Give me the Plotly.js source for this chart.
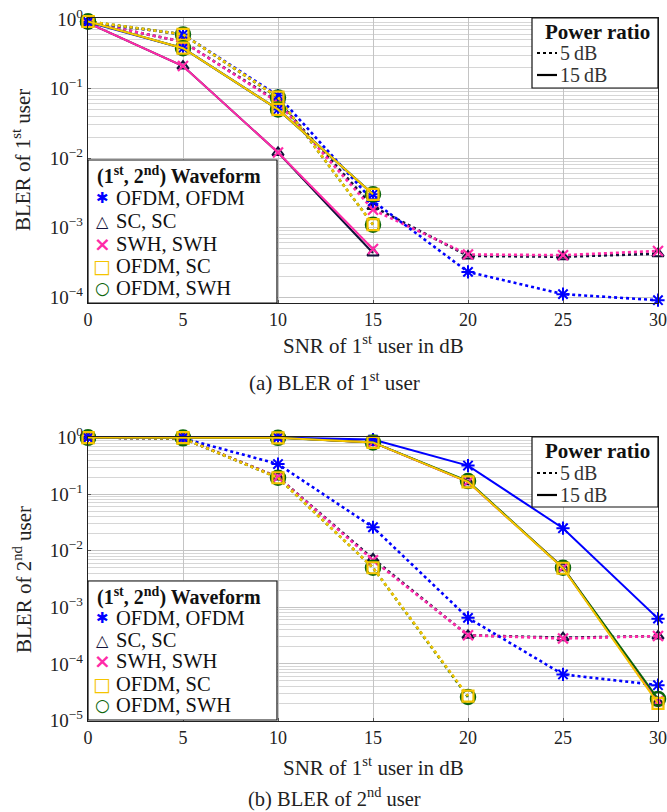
<!DOCTYPE html>
<html><head><meta charset="utf-8">
<script src="https://cdn.plot.ly/plotly-3.0.1.min.js"></script>
<style>html,body{margin:0;padding:0;background:#fff}#chart{width:667px;height:812px}</style>
</head><body><div id="chart"></div>
<script>
// ---------- data ----------
const snr = [0, 5, 10, 15, 20, 25, 30];
const snrShort = [0, 5, 10, 15];
const snrMid = [0, 5, 10, 15, 20];

// BLER of 1st user (top)
const u1_ofdm_5    = [0.9, 0.6, 0.079, 0.0024, 2.3e-4, 1.1e-4, 9e-5];
const u1_sc_5      = [0.9, 0.47, 0.065, 0.002, 3.9e-4, 3.8e-4, 4.2e-4];
const u1_swh_5     = [0.9, 0.47, 0.063, 0.0018, 4.1e-4, 4.0e-4, 4.6e-4];
const u1_ofdmsc_5  = [0.92, 0.6, 0.075, 0.0011];
const u1_ofdmswh_5 = [0.92, 0.6, 0.074, 0.0011];
const u1_ofdm_15    = [0.9, 0.38, 0.05, 0.003];
const u1_sc_15      = [0.88, 0.21, 0.012, 4.3e-4];
const u1_swh_15     = [0.88, 0.21, 0.012, 4.9e-4];
const u1_ofdmsc_15  = [0.92, 0.38, 0.05, 0.003];
const u1_ofdmswh_15 = [0.92, 0.38, 0.05, 0.003];

// BLER of 2nd user (bottom)
const u2_ofdm_5    = [1, 0.97, 0.34, 0.026, 6.5e-4, 6.5e-5, 4.2e-5];
const u2_sc_5      = [1, 0.97, 0.2, 0.0072, 3.2e-4, 2.9e-4, 3.1e-4];
const u2_swh_5     = [1, 0.97, 0.2, 0.0068, 3.2e-4, 2.8e-4, 3.1e-4];
const u2_ofdmsc_5  = [1, 0.97, 0.195, 0.005, 2.7e-5];
const u2_ofdmswh_5 = [1, 0.97, 0.195, 0.005, 2.6e-5];
const u2_ofdm_15    = [1, 1, 1, 0.92, 0.32, 0.025, 6.3e-4];
const u2_sc_15      = [1, 1, 1, 0.82, 0.165, 0.005, 2.1e-5];
const u2_swh_15     = [1, 1, 1, 0.82, 0.165, 0.005, 2.2e-5];
const u2_ofdmsc_15  = [1, 1, 0.99, 0.82, 0.165, 0.0049, 2.0e-5];
const u2_ofdmswh_15 = [1, 1, 0.99, 0.82, 0.17, 0.005, 2.4e-5];

const waveNames = ['OFDM, OFDM', 'SC, SC', 'SWH, SWH', 'OFDM, SC', 'OFDM, SWH'];
const waveGlyphs = ['\u2731', '\u25B3', '\u00D7', '\u25A1', '\u25CB'];
const powerNames = ['5\u2009dB', '15\u2009dB'];
const xTicks = [0, 5, 10, 15, 20, 25, 30];

// ---------- styles ----------
const FONT = 'Liberation Serif, Times New Roman, serif';
const sty = {
  ofdm:    {color: '#0000ff', symbol: 'asterisk-open', size: 11, lw: 2},
  sc:      {color: '#12123a', symbol: 'triangle-up-open', size: 10, lw: 2},
  swh:     {color: '#ff2aa8', symbol: 'x-thin-open', size: 10, lw: 2.2},
  ofdmsc:  {color: '#f5c400', symbol: 'square-open', size: 11, lw: 2.2},
  ofdmswh: {color: '#0b650b', symbol: 'circle-open', size: 14, lw: 2.5}
};
const order = ['ofdm', 'sc', 'swh', 'ofdmsc', 'ofdmswh'];
const glyphSize = {ofdm: 15, sc: 16, swh: 20, ofdmsc: 19, ofdmswh: 17};

function tr(x, y, key, dash, xa, ya, name) {
  const s = sty[key];
  return {
    x: x, y: y, xaxis: xa, yaxis: ya, type: 'scatter', mode: 'lines+markers', name: name,
    showlegend: false, cliponaxis: false, hoverinfo: 'skip',
    line: {color: s.color, width: dash === 'dot' ? 2.6 : 2, dash: dash},
    marker: {symbol: s.symbol, size: s.size, color: s.color, line: {color: s.color, width: s.lw}}
  };
}

const traces = [];
const top5 = {ofdm: [snr, u1_ofdm_5], sc: [snr, u1_sc_5], swh: [snr, u1_swh_5], ofdmsc: [snrShort, u1_ofdmsc_5], ofdmswh: [snrShort, u1_ofdmswh_5]};
const top15 = {ofdm: [snrShort, u1_ofdm_15], sc: [snrShort, u1_sc_15], swh: [snrShort, u1_swh_15], ofdmsc: [snrShort, u1_ofdmsc_15], ofdmswh: [snrShort, u1_ofdmswh_15]};
const bot5 = {ofdm: [snr, u2_ofdm_5], sc: [snr, u2_sc_5], swh: [snr, u2_swh_5], ofdmsc: [snrMid, u2_ofdmsc_5], ofdmswh: [snrMid, u2_ofdmswh_5]};
const bot15 = {ofdm: [snr, u2_ofdm_15], sc: [snr, u2_sc_15], swh: [snr, u2_swh_15], ofdmsc: [snr, u2_ofdmsc_15], ofdmswh: [snr, u2_ofdmswh_15]};

const drawOrder = ['sc', 'swh', 'ofdm', 'ofdmswh', 'ofdmsc'];
const nm = k => waveNames[order.indexOf(k)];
drawOrder.forEach(k => traces.push(tr(top5[k][0], top5[k][1], k, 'dot', 'x', 'y', nm(k) + ' 5 dB')));
drawOrder.forEach(k => traces.push(tr(top15[k][0], top15[k][1], k, 'solid', 'x', 'y', nm(k) + ' 15 dB')));
drawOrder.forEach(k => traces.push(tr(bot5[k][0], bot5[k][1], k, 'dot', 'x2', 'y2', nm(k) + ' 5 dB')));
drawOrder.forEach(k => traces.push(tr(bot15[k][0], bot15[k][1], k, 'solid', 'x2', 'y2', nm(k) + ' 15 dB')));

// ---------- axes ----------
const W = 667, H = 812;
const px = v => v / W, py = v => 1 - v / H;
const xDom = [px(88), px(658)];

function logTicks(lo, hi) {
  const vals = [], txt = [], minor = [];
  for (let e = hi; e >= lo; e--) {
    vals.push(Math.pow(10, e));
    txt.push('10<sup>' + (e < 0 ? '\u2212' + (-e) : e) + '</sup>');
    if (e > lo) for (let m = 2; m <= 9; m++) minor.push(m * Math.pow(10, e - 1));
  }
  return {vals, txt, minor};
}
const t1 = logTicks(-4, 0), t2 = logTicks(-5, 0);

function xAxis(dom, anchor) {
  return {domain: dom, anchor: anchor, range: [0, 30], tickmode: 'array', tickvals: xTicks,
    showgrid: true, gridcolor: '#c4c4c4', gridwidth: 1, zeroline: false,
    showline: true, linecolor: '#222', linewidth: 1.2, mirror: true,
    ticks: 'inside', ticklen: 3, tickcolor: '#555', ticklabelstandoff: 0,
    tickfont: {family: FONT, size: 18, color: '#222'}, automargin: false};
}
function yAxis(dom, anchor, range, t) {
  return {domain: dom, anchor: anchor, type: 'log', range: range, tickmode: 'array',
    tickvals: t.vals, ticktext: t.txt,
    showgrid: true, gridcolor: '#c4c4c4', gridwidth: 1, zeroline: false,
    minor: {tickmode: 'array', tickvals: t.minor, showgrid: true, gridcolor: '#d6d6d6', gridwidth: 1, ticks: ''},
    showline: true, linecolor: '#222', linewidth: 1.2, mirror: true,
    ticks: 'inside', ticklen: 3, tickcolor: '#555',
    tickfont: {family: FONT, size: 19, color: '#222'}, automargin: false};
}

// ---------- text & legends ----------
const annotations = [];
const shapes = [];
function ann(text, xp, yp, size, opts) {
  annotations.push(Object.assign({text: text, x: px(xp), y: py(yp), xref: 'paper', yref: 'paper', showarrow: false,
    xanchor: 'center', yanchor: 'middle', textangle: 0, borderpad: 0,
    font: {family: FONT, size: size, color: '#222'}}, opts || {}));
}
function box(x0, y0, x1, y1) {
  shapes.push({type: 'rect', xref: 'paper', yref: 'paper', x0: px(x0), x1: px(x1), y0: py(y1), y1: py(y0),
    line: {color: '#111', width: 1.2}, fillcolor: '#fff', layer: 'above'});
}
function waveLegend(top, bottom, titleY, rowYs) {
  box(88, top, 277, bottom);
  ann('<b>(1<sup>st</sup>, 2<sup>nd</sup>) Waveform</b>', 96, titleY, 20, {xanchor: 'left', font: {family: FONT, size: 20, color: '#111'}});
  order.forEach((k, i) => {
    const s = sty[k];
    ann('<b>' + waveGlyphs[i] + '</b>', 102, rowYs[i], glyphSize[k],
      {font: {family: 'DejaVu Sans', size: glyphSize[k], color: s.color}});
    ann(waveNames[i], 115, rowYs[i], 20, {xanchor: 'left', font: {family: FONT, size: 20.5, color: '#111'}});
  });
}
function powerLegend(top, bottom, titleY, rowYs) {
  box(532, top, 658, bottom);
  ann('<b>Power ratio</b>', 651, titleY, 21, {xanchor: 'right', font: {family: FONT, size: 21, color: '#111'}});
  ['dot', 'solid'].forEach((d, i) => {
    shapes.push({type: 'line', xref: 'paper', yref: 'paper', x0: px(537), x1: px(557), y0: py(rowYs[i]), y1: py(rowYs[i]),
      line: {color: '#000', width: 2.2, dash: d}, layer: 'above'});
    ann(powerNames[i], 559, rowYs[i], 20, {xanchor: 'left', font: {family: FONT, size: 20, color: '#333'}});
  });
}

waveLegend(160, 303, 176, [198, 221, 244, 266, 288]);
powerLegend(18, 88, 32, [53, 75]);
waveLegend(581, 720, 596, [618, 640, 661, 684, 705]);
powerLegend(437, 507, 451, [473, 495]);

ann('SNR of 1<sup>st</sup> user in dB', 373, 345, 21);
ann('(a) BLER of 1<sup>st</sup> user', 334, 381, 21);
ann('BLER of 1<sup>st</sup> user', 22, 160, 21, {textangle: -90});
ann('SNR of 1<sup>st</sup> user in dB', 373, 766, 21);
ann('(b) BLER of 2<sup>nd</sup> user', 334, 797, 20.5);
ann('BLER of 2<sup>nd</sup> user', 22, 580, 21, {textangle: -90});

const layout = {
  width: W, height: H, margin: {l: 0, r: 0, t: 0, b: 0},
  paper_bgcolor: '#fff', plot_bgcolor: '#fff', showlegend: false,
  xaxis: xAxis(xDom, 'y'),
  yaxis: yAxis([py(303), py(18)], 'x', [-4.086, 0.014], t1),
  xaxis2: xAxis(xDom, 'y2'),
  yaxis2: yAxis([py(721), py(437)], 'x2', [-5.01, 0.01], t2),
  shapes: shapes,
  annotations: annotations
};

Plotly.newPlot('chart', traces, layout, {displayModeBar: false, staticPlot: true});
</script>
</body></html>
